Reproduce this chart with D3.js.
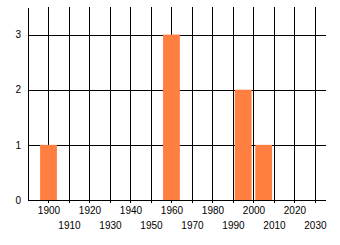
<!DOCTYPE html>
<html>
<head>
<meta charset="utf-8">
<script src="https://cdn.jsdelivr.net/npm/d3@7"></script>
<style>
  body { margin: 0; background: #fff; }
  .axis line, .axis path { stroke: #000; shape-rendering: crispEdges; }
  .axis text { fill: #000; font-family: "Liberation Sans", Arial, sans-serif; font-size: 10px; }
</style>
</head>
<body>
<div id="chart"></div>
<script>
// histogram bins (bin centre year) and counts
const binCenters = [1900, 1960, 1995, 2005];
const counts = [1, 3, 2, 1];
const yearTicks = [1900, 1910, 1920, 1930, 1940, 1950, 1960, 1970, 1980, 1990, 2000, 2010, 2020, 2030];
const countTicks = [0, 1, 2, 3];

const width = 340;
const height = 245;
const margin = { top: 7, bottom: 45, left: 28, right: 14 };
const binWidth = 8.2;

const svg = d3.select('#chart')
  .append('svg')
    .attr('width', width)
    .attr('height', height);

const xScale = d3.scaleLinear()
  .domain([1890, 2035.4])
  .range([margin.left, width - margin.right]);

const yScale = d3.scaleLinear()
  .domain([0, 3.5])
  .range([height - margin.bottom, margin.top]);

const plotH = yScale(0) - yScale(3.5);

// horizontal grid + left axis line
svg.append('g')
    .attr('class', 'axis')
    .attr('transform', `translate(${margin.left}, 0)`)
  .call(d3.axisLeft(yScale)
    .tickValues(countTicks)
    .tickFormat(d3.format('d'))
    .tickSizeInner(-(xScale.range()[1] - margin.left))
    .tickSizeOuter(0)
    .tickPadding(7));

// vertical grid, ticks below baseline, two-row labels
const xAxis = svg.append('g')
    .attr('class', 'axis')
    .attr('transform', `translate(0, ${yScale(0)})`)
  .call(d3.axisBottom(xScale)
    .tickValues(yearTicks)
    .tickFormat(d3.format('d'))
    .tickSizeInner(-plotH)
    .tickSizeOuter(0));

xAxis.select('.domain').remove();
xAxis.selectAll('.tick line').attr('y1', 3);
xAxis.selectAll('.tick text')
  .attr('y', (d, i) => i % 2 ? 22 : 7);

// bars on top of the grid
svg.append('g')
  .selectAll('rect')
  .data(binCenters.map((c, i) => ({ c, n: counts[i] })))
  .enter()
  .append('rect')
    .attr('x', d => xScale(d.c - binWidth / 2))
    .attr('width', d => xScale(d.c + binWidth / 2) - xScale(d.c - binWidth / 2))
    .attr('y', d => yScale(d.n))
    .attr('height', d => yScale(0) - yScale(d.n))
    .style('fill', '#ff7f40');
</script>
</body>
</html>
